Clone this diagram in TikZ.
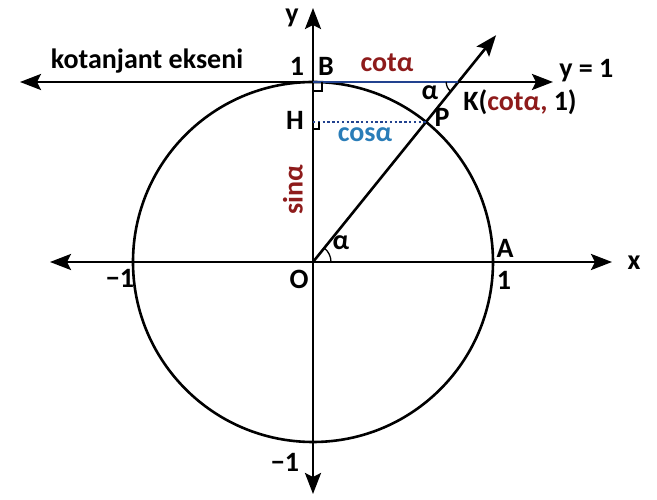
\documentclass[tikz,border=0pt]{standalone}
\usepackage{fontspec}
\setmainfont{Carlito}
\usetikzlibrary{arrows.meta,calc}
\definecolor{cred}{HTML}{8E1B1B}
\definecolor{cblue}{HTML}{2A7DB8}
\definecolor{cnavy}{HTML}{22428F}
\begin{document}
\begin{tikzpicture}[x=1pt,y=1pt,line width=2.6pt,
  >={Stealth[length=21pt,width=16pt,inset=4pt]},
  lbl/.style={font=\fontsize{28}{32}\selectfont\bfseries,inner sep=0pt},
  axis/.style={<->},
  thin/.style={line width=1.3pt}]
\useasboundingbox (-313,-238) rectangle (344,262);
% points
\coordinate (O) at (0,0);
\coordinate (xL) at (-263,0);
\coordinate (xR) at (299,0);
\coordinate (yT) at (0,254);
\coordinate (yB) at (0,-232);
\coordinate (B) at (0,180);
\coordinate (cL) at (-293,180);
\coordinate (cR) at (240,180);
\coordinate (P) at (113,140);
\coordinate (K) at (145.2,180);
\coordinate (H) at (0,140);
\coordinate (E) at ($(O)!1.62!(P)$);
% circle
\draw (O) circle[radius=180];
% axes
\draw[axis] (xL) -- (xR);
\draw[axis] (yB) -- (yT);
\draw[axis] (cL) -- (cR);
\draw[->] (O) -- (E);
% coloured segments
\draw[cnavy,line width=2pt] (B) -- (K);
\draw[cnavy,line width=2.2pt,dash pattern=on 2.4pt off 2.4pt] (H) -- (P);
% right angle marks
\draw[thin] ($(B)+(0,-9)$) -- ++(9,0) -- ++(0,9);
\draw[thin] ($(H)+(0,-7)$) -- ++(6,0) -- ++(0,7);
% angle arcs
\draw[thin] (18,0) arc[start angle=0,end angle=51.1,radius=18];
\draw[thin] ($(K)+(-12,0)$) arc[start angle=180,end angle=231.1,radius=12];
% labels
\node[lbl] (tx) at (321,-1) {x};
\node[lbl] (ty) at (-21,244) {y};
\node[lbl] (tkot) at (-166,201) {kotanjant ekseni};
\node[lbl] (t1a) at (-16,196) {1};
\node[lbl] (tB) at (13,196) {B};
\node[lbl,text=cred] (tcot) at (74,199) {cotα};
\node[lbl,anchor=west] (ty1) at (245,191) {y = 1};
\node[lbl] (taK) at (117,169) {α};
\node[lbl,anchor=west] (tK) at (149,160) {K(\textcolor{cred}{cotα,} 1)};
\node[lbl] (tP) at (129,145) {P};
\node[lbl] (tH) at (-18,142) {H};
\node[lbl,text=cblue] (tcos) at (52,127) {cosα};
\node[lbl,text=cred,rotate=90] (tsin) at (-20,72) {sinα};
\node[lbl] (taO) at (28,19) {α};
\node[lbl] (tA) at (192,14) {A};
\node[lbl] (t1b) at (191,-18) {1};
\node[lbl] (tm1a) at (-193,-16) {−1};
\node[lbl] (tO) at (-14,-17) {O};
\node[lbl] (tm1b) at (-28,-200) {−1};
\end{tikzpicture}
\end{document}
